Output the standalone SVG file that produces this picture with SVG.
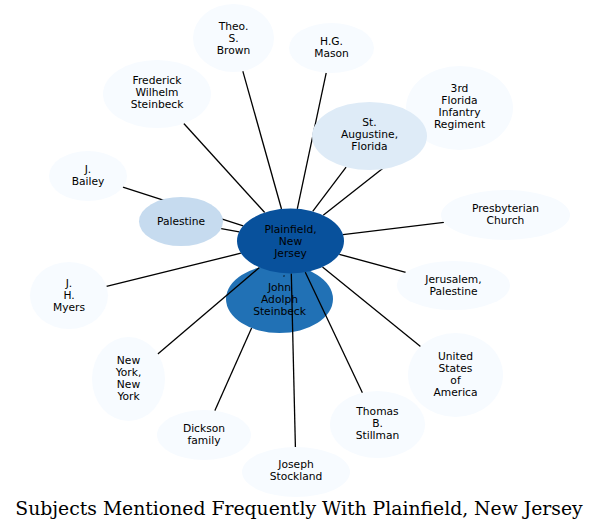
<svg xmlns="http://www.w3.org/2000/svg" width="600" height="532" viewBox="0 0 600 532">
<style>
.n text{font-family:"DejaVu Sans",sans-serif;font-size:10.7px;text-anchor:middle;fill:#000}
.l{fill:#f7fbff}
.e line{stroke:#000;stroke-width:1.3}
.t{font-family:"DejaVu Serif",serif;font-size:18.8px;text-anchor:middle;fill:#000}
</style>
<rect width="600" height="532" fill="#fff"/>
<g id="john" class="n"><ellipse cx="279.5" cy="299" rx="53.5" ry="34" fill="#2171b5"/><text x="279.5" y="291">John</text><text x="279.5" y="303">Adolph</text><text x="279.5" y="315">Steinbeck</text></g>
<g id="edges" class="e">
<line x1="281.5" y1="209" x2="242.8" y2="71.1"/>
<line x1="297.3" y1="208.8" x2="326.2" y2="72.8"/>
<line x1="264.7" y1="212.5" x2="183.8" y2="123.5"/>
<line x1="312.7" y1="211.4" x2="346.1" y2="167.1"/>
<line x1="323.2" y1="215.3" x2="421.7" y2="137.7"/>
<line x1="343" y1="234.7" x2="443.9" y2="222.4"/>
<line x1="339.3" y1="254.3" x2="405.7" y2="272.4"/>
<line x1="322.5" y1="267" x2="420.5" y2="346.6"/>
<line x1="305.3" y1="272.2" x2="362.4" y2="392.7"/>
<line x1="291.3" y1="273.5" x2="295.4" y2="447"/>
<line x1="214.8" y1="410.7" x2="251.6" y2="328.1"/>
<line x1="259.4" y1="267.5" x2="157.8" y2="354"/>
<line x1="240.9" y1="253.2" x2="106.5" y2="286.3"/>
<line x1="239.2" y1="231.9" x2="221.2" y2="228.7"/>
<line x1="243.2" y1="225.8" x2="122.9" y2="187.2"/>
<line x1="283.8" y1="275.4" x2="284.2" y2="276.4"/>
</g>
<g id="plainfield" class="n"><ellipse cx="290.5" cy="241" rx="53.5" ry="32.5" fill="#08519c"/><text x="290.5" y="233">Plainfield,</text><text x="290.5" y="245">New</text><text x="290.5" y="257">Jersey</text></g>
<g id="theo" class="n"><ellipse class="l" cx="233.5" cy="38" rx="40.5" ry="34"/><text x="233.5" y="30">Theo.</text><text x="233.5" y="42">S.</text><text x="233.5" y="54">Brown</text></g>
<g id="mason" class="n"><ellipse class="l" cx="331.5" cy="48" rx="42.5" ry="25"/><text x="331.5" y="45">H.G.</text><text x="331.5" y="57">Mason</text></g>
<g id="frederick" class="n"><ellipse class="l" cx="157" cy="94" rx="54" ry="34"/><text x="157" y="84">Frederick</text><text x="157" y="96">Wilhelm</text><text x="157" y="108">Steinbeck</text></g>
<g id="florida3" class="n"><ellipse class="l" cx="459.5" cy="108" rx="53.5" ry="42"/><text x="459.5" y="92">3rd</text><text x="459.5" y="104">Florida</text><text x="459.5" y="116">Infantry</text><text x="459.5" y="128">Regiment</text></g>
<g id="staugustine" class="n"><ellipse cx="369.5" cy="136" rx="57.5" ry="34" fill="#deebf7"/><text x="369.5" y="126">St.</text><text x="369.5" y="138">Augustine,</text><text x="369.5" y="150">Florida</text></g>
<g id="bailey" class="n"><ellipse class="l" cx="88" cy="176" rx="39" ry="25"/><text x="88" y="173">J.</text><text x="88" y="185">Bailey</text></g>
<g id="palestine" class="n"><ellipse cx="181" cy="221.5" rx="42" ry="24.5" fill="#c6dbef"/><text x="181" y="225">Palestine</text></g>
<g id="myers" class="n"><ellipse class="l" cx="69" cy="295.5" rx="39" ry="33.5"/><text x="69" y="287">J.</text><text x="69" y="299">H.</text><text x="69" y="311">Myers</text></g>
<g id="presbyterian" class="n"><ellipse class="l" cx="505.5" cy="215" rx="64.5" ry="25"/><text x="505.5" y="212">Presbyterian</text><text x="505.5" y="224">Church</text></g>
<g id="jerusalem" class="n"><ellipse class="l" cx="453.5" cy="285.5" rx="56.5" ry="24.5"/><text x="453.5" y="283">Jerusalem,</text><text x="453.5" y="295">Palestine</text></g>
<g id="newyork" class="n"><ellipse class="l" cx="128.5" cy="379" rx="36.5" ry="42"/><text x="128.5" y="364">New</text><text x="128.5" y="376">York,</text><text x="128.5" y="388">New</text><text x="128.5" y="400">York</text></g>
<g id="usa" class="n"><ellipse class="l" cx="455.5" cy="375" rx="47.5" ry="42"/><text x="455.5" y="360">United</text><text x="455.5" y="372">States</text><text x="455.5" y="384">of</text><text x="455.5" y="396">America</text></g>
<g id="stillman" class="n"><ellipse class="l" cx="377.5" cy="424.5" rx="47.5" ry="33.5"/><text x="377.5" y="415">Thomas</text><text x="377.5" y="427">B.</text><text x="377.5" y="439">Stillman</text></g>
<g id="dickson" class="n"><ellipse class="l" cx="204" cy="435" rx="47" ry="25"/><text x="204" y="432">Dickson</text><text x="204" y="444">family</text></g>
<g id="stockland" class="n"><ellipse class="l" cx="296" cy="472" rx="54" ry="25"/><text x="296" y="468">Joseph</text><text x="296" y="480">Stockland</text></g>
<text class="t" x="299" y="515">Subjects Mentioned Frequently With Plainfield, New Jersey</text>
</svg>
